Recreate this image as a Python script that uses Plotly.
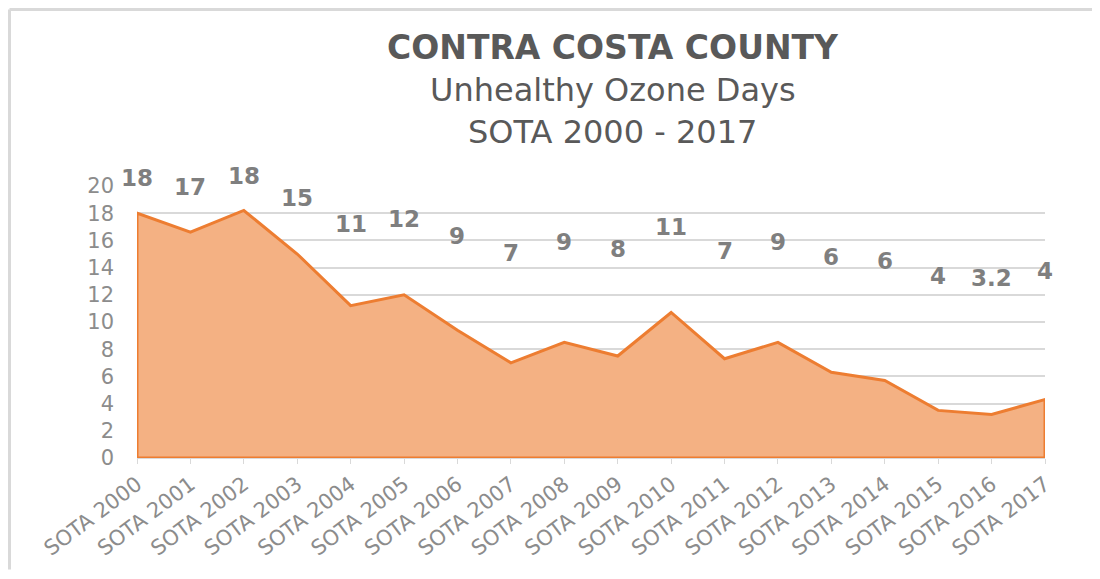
import plotly.graph_objects as go

categories = ["SOTA 2000", "SOTA 2001", "SOTA 2002", "SOTA 2003", "SOTA 2004", "SOTA 2005",
              "SOTA 2006", "SOTA 2007", "SOTA 2008", "SOTA 2009", "SOTA 2010", "SOTA 2011",
              "SOTA 2012", "SOTA 2013", "SOTA 2014", "SOTA 2015", "SOTA 2016", "SOTA 2017"]
values = [18.0, 16.6, 18.2, 15.0, 11.2, 12.0, 9.4, 7.0, 8.5, 7.5, 10.7, 7.3, 8.5, 6.3, 5.7, 3.5, 3.2, 4.3]
labels = ["18", "17", "18", "15", "11", "12", "9", "7", "9", "8", "11", "7", "9", "6", "6", "4", "3.2", "4"]
y_ticks = [0, 2, 4, 6, 8, 10, 12, 14, 16, 18, 20]

FONT = "DejaVu Sans"
TEXT_GRAY = "#595959"
TICK_GRAY = "#8c8c8c"

n = len(categories)
idx = list(range(n))
Y_MAX = 20

# closed polygon so the outline runs along the bottom and both sides
poly_x = [0] + idx + [n - 1, 0]
poly_y = [0] + values + [0, 0]

fig = go.Figure()
fig.add_trace(go.Scatter(
    x=poly_x, y=poly_y, mode="lines", fill="toself",
    fillcolor="#F4B183", line=dict(color="#ED7D31", width=3),
    hoverinfo="skip", showlegend=False,
))

annotations = []
for i, (v, t) in enumerate(zip(values, labels)):
    annotations.append(dict(
        x=i, y=(11.6 + 0.5 * v) / Y_MAX, xref="x", yref="paper", text="<b>" + t + "</b>",
        showarrow=False,
        font=dict(family=FONT, size=23, color="#7f7f7f"),
        xanchor="center", yanchor="middle",
    ))

annotations += [
    dict(x=0.524, y=1.511, xref="paper", yref="paper", text="<b>CONTRA COSTA COUNTY</b>",
         showarrow=False, font=dict(family=FONT, size=33, color=TEXT_GRAY),
         xanchor="center", yanchor="middle"),
    dict(x=0.524, y=1.353, xref="paper", yref="paper", text="Unhealthy Ozone Days",
         showarrow=False, font=dict(family=FONT, size=32, color=TEXT_GRAY),
         xanchor="center", yanchor="middle"),
    dict(x=0.524, y=1.199, xref="paper", yref="paper", text="SOTA 2000 - 2017",
         showarrow=False, font=dict(family=FONT, size=32, color=TEXT_GRAY),
         xanchor="center", yanchor="middle"),
]

BORDER = dict(color="#d9d9d9", width=3)
fig.update_layout(
    width=1084, height=563,
    margin=dict(l=129, r=47, t=178, b=113),
    paper_bgcolor="white", plot_bgcolor="white",
    annotations=annotations,
    shapes=[
        dict(type="line", xref="paper", yref="paper", x0=-0.1404, x1=1.06,
             y0=1.649, y1=1.649, line=BORDER, layer="below"),
        dict(type="line", xref="paper", yref="paper", x0=-0.1404, x1=-0.1404,
             y0=-0.41, y1=1.649, line=BORDER, layer="below"),
    ],
)
fig.update_xaxes(
    range=[0, n - 1], tickmode="array", tickvals=idx, ticktext=categories,
    tickangle=-37, tickfont=dict(family=FONT, size=21, color=TICK_GRAY),
    showgrid=False, zeroline=False, showline=True, linecolor="#d9d9d9", linewidth=1,
    ticks="outside", ticklen=5, tickcolor="#d9d9d9", automargin=False,
)
fig.update_yaxes(
    range=[0, Y_MAX], tickmode="array", tickvals=y_ticks,
    tickfont=dict(family=FONT, size=21, color=TICK_GRAY),
    showgrid=True, gridcolor="#d9d9d9", gridwidth=1.5, zeroline=False,
    showline=False, ticklabelstandoff=22, automargin=False,
)

fig.write_html("out.html")
